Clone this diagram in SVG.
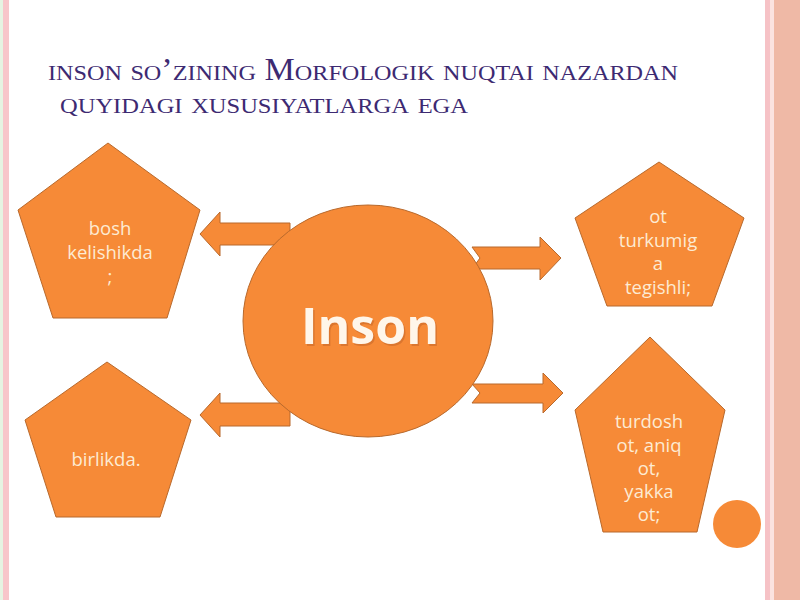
<svg xmlns="http://www.w3.org/2000/svg" width="800" height="600" viewBox="0 0 800 600">
<defs>
<style>
.shape{fill:#f68a37;stroke:#b8692c;stroke-width:1}
.lbl{font-family:"Open Sans","Noto Sans","DejaVu Sans",sans-serif;font-size:18.5px;fill:#fdebd3;text-anchor:middle}
.title{font-family:"Liberation Serif","Times New Roman",serif;font-variant:small-caps;fill:#3d2a72}
</style>
</defs>
<rect x="0" y="0" width="800" height="600" fill="#ffffff"/>
<rect x="0" y="0" width="3" height="600" fill="#e6f4e2"/>
<rect x="3" y="0" width="6" height="600" fill="#f8c6ca"/>
<rect x="765" y="0" width="5" height="600" fill="#f6c2c6"/>
<rect x="770" y="0" width="4" height="600" fill="#fbe3e0"/>
<rect x="774" y="0" width="26" height="600" fill="#efb9a6"/>

<g id="title">
<text class="title" x="48" y="80" font-size="31" textLength="630" lengthAdjust="spacingAndGlyphs">inson so’zining Morfologik nuqtai nazardan</text>
<text class="title" x="60" y="113" font-size="31" textLength="408" lengthAdjust="spacingAndGlyphs">quyidagi xususiyatlarga ega</text>
</g>

<g id="connectors">
<polygon class="shape" points="290,223 220,223 220,212 200,234 220,256 220,245 290,245"/>
<polygon class="shape" points="290,403 220,403 220,393 200,415 220,437 220,426 290,426"/>
<polygon class="shape" points="472,247 540,247 540,237 561,258 540,280 540,269 472,269 480,258"/>
<polygon class="shape" points="472,384 543,384 543,373 563,393 543,413 543,403 472,403 480,393"/>
</g>

<g id="inson">
<ellipse class="shape" cx="368" cy="321" rx="125" ry="116"/>
<text x="370" y="344" font-family="'Open Sans','Noto Sans','DejaVu Sans',sans-serif" font-size="50" font-weight="bold" fill="#c9692a" fill-opacity="0.6" text-anchor="middle" transform="translate(1.5,1.5)">Inson</text>
<text x="370" y="344" font-family="'Open Sans','Noto Sans','DejaVu Sans',sans-serif" font-size="50" font-weight="bold" fill="#fff6ea" text-anchor="middle">Inson</text>
</g>

<g id="bosh">
<polygon class="shape" points="108,143 200,210 167,318 53,318 18,210"/>
<text class="lbl" x="110" y="235">bosh</text>
<text class="lbl" x="110" y="259">kelishikda</text>
<text class="lbl" x="110" y="283">;</text>
</g>

<g id="birlikda">
<polygon class="shape" points="107,362 191,420 160,517 56,517 25,420"/>
<text class="lbl" x="106" y="466">birlikda.</text>
</g>

<g id="ot-turkumiga">
<polygon class="shape" points="659,162 744,218 712,306 607,306 575,218"/>
<text class="lbl" x="658" y="223">ot</text>
<text class="lbl" x="658" y="247">turkumig</text>
<text class="lbl" x="658" y="270">a</text>
<text class="lbl" x="658" y="294">tegishli;</text>
</g>

<g id="turdosh">
<polygon class="shape" points="650,337 725,410 697,532 603,532 575,410"/>
<text class="lbl" x="649" y="428">turdosh</text>
<text class="lbl" x="649" y="452">ot, aniq</text>
<text class="lbl" x="649" y="475">ot,</text>
<text class="lbl" x="649" y="498">yakka</text>
<text class="lbl" x="649" y="521">ot;</text>
</g>

<g id="dot">
<circle cx="737" cy="524" r="24" fill="#f68a37"/>
</g>
</svg>
